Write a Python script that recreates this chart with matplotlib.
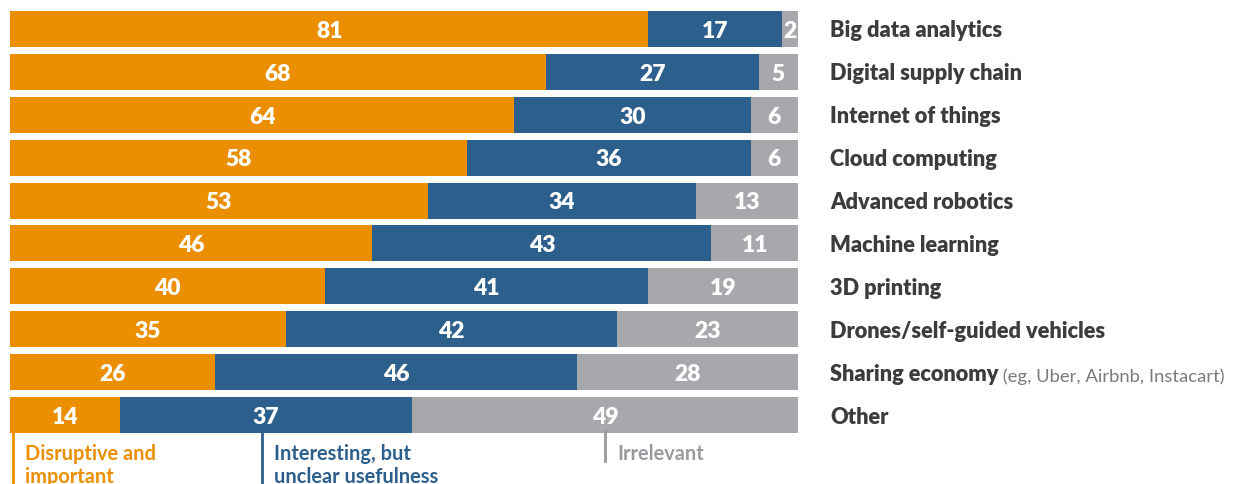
import matplotlib
matplotlib.use("Agg")
import matplotlib.pyplot as plt

plt.rcParams['font.family'] = ['Lato', 'DejaVu Sans']

categories = ["Big data analytics", "Digital supply chain", "Internet of things",
              "Cloud computing", "Advanced robotics", "Machine learning",
              "3D printing", "Drones/self-guided vehicles", "Sharing economy", "Other"]
category_notes = ["", "", "", "", "", "", "", "", "(eg, Uber, Airbnb, Instacart)", ""]
disruptive = [81, 68, 64, 58, 53, 46, 40, 35, 26, 14]
interesting = [17, 27, 30, 36, 34, 43, 41, 42, 46, 37]
irrelevant = [2, 5, 6, 6, 13, 11, 19, 23, 28, 49]
series_names = ["Disruptive and\nimportant", "Interesting, but\nunclear usefulness", "Irrelevant"]

colors = ["#EB8F00", "#2D5F8C", "#A7A8AC"]
text_colors = ["#EB8F00", "#2D5F8C", "#9A9B9F"]
label_color = "#3C3C3C"

W, H = 1240, 485
fig = plt.figure(figsize=(W / 100, H / 100), dpi=100)
ax_left, ax_right = 10, 798
ax_top, ax_bottom = 8.5, 437.5
ax = fig.add_axes([ax_left / W, 1 - ax_bottom / H, (ax_right - ax_left) / W, (ax_bottom - ax_top) / H])
ax.set_xlim(0, 100)
ax.set_ylim(len(categories) - 0.5, -0.5)
ax.axis('off')

bar_h = 0.84
ys = list(range(len(categories)))
lefts = [0] * len(categories)
for vals, col in zip([disruptive, interesting, irrelevant], colors):
    ax.barh(ys, vals, left=lefts, height=bar_h, color=col, edgecolor='none')
    for y, v, l in zip(ys, vals, lefts):
        ax.text(l + v / 2, y + 0.03, str(v), ha='center', va='center', color='white',
                fontsize=16.5, fontweight='heavy')
    lefts = [l + v for l, v in zip(lefts, vals)]

# category labels
for y, cat, note in zip(ys, categories, category_notes):
    py = H - (ax_top + (y + 0.5) * (ax_bottom - ax_top) / len(categories)) - 1
    t = fig.text(830 / W, py / H, cat, fontsize=15.7, fontweight='heavy', color=label_color,
                 ha='left', va='center')
    if note:
        ax.annotate(" " + note, xy=(1, 0), xycoords=t, ha='left', va='bottom',
                    fontsize=13.3, color="#7A7A7A", fontweight='normal')

# legend-like annotations below bars
leg_x = [13, 262, 605]
leg_bottom = [485, 485, 462]
for x, yb, name, col in zip(leg_x, leg_bottom, series_names, text_colors):
    fig.add_artist(plt.Line2D([x / W, x / W], [1 - 432 / H, 1 - yb / H], color=col, lw=2,
                              transform=fig.transFigure))
    fig.text((x + 12) / W, 1 - 444 / H, name, ha='left', va='top', color=col,
             fontsize=14.4, fontweight='bold', linespacing=1.2)

fig.savefig("out.png", dpi=100)
